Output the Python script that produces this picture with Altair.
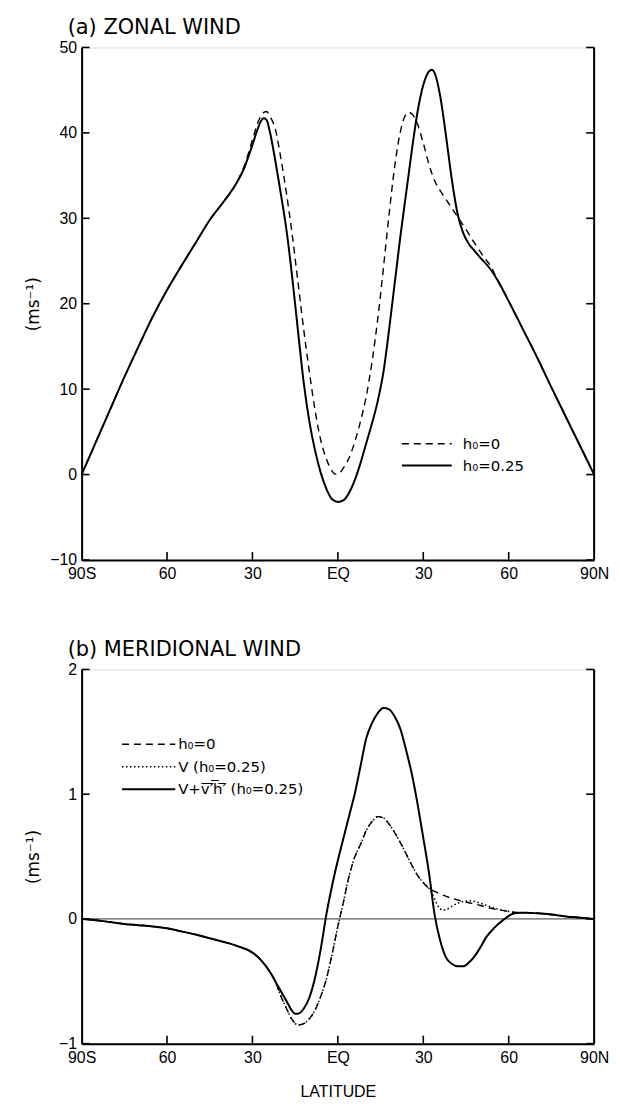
import altair as alt
import pandas as pd

FONT = "Liberation Sans"
TITLE_FONT = "DejaVu Sans"

# axis ticks and labels
LAT_TICKS = [-90, -60, -30, 0, 30, 60, 90]
LAT_LABELS = ["90S", "60", "30", "EQ", "30", "60", "90N"]
U_TICKS = [-10, 0, 10, 20, 30, 40, 50]
V_TICKS = [-1, 0, 1, 2]

# (a) zonal wind, h0 = 0
U0_LAT = [-90, -85, -80, -75, -70, -65, -60, -55, -50, -45, -40, -36, -33, -30, -28, -26, -25,
          -24, -22, -20, -18, -16, -14, -12, -10, -8, -6, -4, -2, -1, 0, 1, 2, 4, 6, 8, 10, 12,
          14, 16, 18, 20, 22, 24, 25, 26, 28, 30, 32, 34, 36, 38, 40, 42, 45, 48, 51, 54, 56,
          60, 65, 70, 75, 80, 85, 90]
U0_VAL = [0.0, 3.8, 7.6, 11.4, 15.0, 18.5, 21.6, 24.4, 27.1, 29.8, 32.0, 33.9, 36.0, 39.2, 41.3,
          42.4, 42.5, 42.0, 40.5, 37.0, 32.8, 28.0, 22.5, 17.0, 12.0, 7.5, 4.0, 1.8, 0.4, 0.05,
          0.05, 0.3, 0.8, 2.0, 3.9, 6.3, 9.2, 13.2, 18.2, 24.2, 30.5, 36.2, 40.2, 42.2, 42.4,
          42.2, 41.0, 38.8, 36.3, 34.4, 33.2, 32.2, 31.2, 30.2, 28.7, 27.1, 25.6, 24.2, 22.8,
          20.3, 17.0, 13.7, 10.2, 6.8, 3.4, 0.0]

# (a) zonal wind, h0 = 0.25
U25_LAT = [-90, -85, -80, -75, -70, -65, -60, -55, -50, -45, -40, -36, -33, -30, -28, -27, -26,
           -25, -24, -22, -20, -18, -16, -14, -12, -10, -8, -6, -4, -2, 0, 2, 4, 6, 8, 10, 12,
           14, 16, 18, 20, 22, 24, 26, 28, 30, 32, 33, 34, 36, 38, 40, 42, 44, 46, 48, 50, 53,
           56, 60, 65, 70, 75, 80, 85, 90]
U25_VAL = [0.0, 3.8, 7.6, 11.4, 15.0, 18.5, 21.6, 24.4, 27.1, 29.8, 32.0, 33.9, 35.8, 38.6, 40.6,
           41.4, 41.7, 41.5, 40.3, 36.8, 32.8, 28.5, 23.0, 16.8, 10.8, 6.2, 2.8, 0.2, -1.7, -2.9,
           -3.2, -3.0, -2.1, -0.6, 1.4, 3.7, 6.0, 8.6, 12.0, 17.0, 22.5, 28.0, 33.0, 38.0, 42.5,
           45.6, 47.2, 47.4, 47.0, 44.2, 39.6, 34.6, 30.6, 28.3, 27.0, 26.2, 25.4, 24.3, 22.8,
           20.3, 17.0, 13.7, 10.2, 6.8, 3.4, 0.0]

# (b) meridional wind, h0 = 0
V0_LAT = [-90, -85, -80, -75, -70, -65, -60, -55, -50, -45, -40, -35, -30, -27, -24, -22, -20,
          -18, -16, -14, -12, -10, -8, -6, -4, -2, 0, 1, 2, 4, 6, 8, 10, 12, 14, 16, 18, 20, 22,
          24, 26, 28, 30, 32, 34, 37, 40, 44, 48, 52, 56, 60, 64, 66, 70, 75, 80, 85, 90]
V0_VAL = [0.0, -0.01, -0.025, -0.04, -0.05, -0.06, -0.075, -0.10, -0.125, -0.155, -0.185, -0.22,
          -0.27, -0.33, -0.42, -0.50, -0.62, -0.72, -0.81, -0.85, -0.84, -0.80, -0.73, -0.62,
          -0.48, -0.28, -0.06, 0.04, 0.14, 0.35, 0.50, 0.60, 0.71, 0.78, 0.82, 0.81, 0.76, 0.69,
          0.61, 0.52, 0.43, 0.35, 0.29, 0.245, 0.22, 0.19, 0.165, 0.14, 0.12, 0.095, 0.075,
          0.06, 0.05, 0.05, 0.045, 0.035, 0.02, 0.01, 0.0]

# (b) meridional wind, V for h0 = 0.25
VD_LAT = [-90, -85, -80, -75, -70, -65, -60, -55, -50, -45, -40, -35, -30, -27, -24, -22, -20,
          -18, -16, -14, -12, -10, -8, -6, -4, -2, 0, 1, 2, 4, 6, 8, 10, 12, 14, 16, 18, 20, 22,
          24, 26, 28, 30, 32, 33, 34, 35, 36, 37, 38, 40, 42, 44, 46, 48, 52, 56, 60, 64, 66, 70,
          75, 80, 85, 90]
VD_VAL = [0.0, -0.01, -0.025, -0.04, -0.05, -0.06, -0.075, -0.10, -0.125, -0.155, -0.185, -0.22,
          -0.27, -0.33, -0.42, -0.50, -0.62, -0.72, -0.81, -0.85, -0.84, -0.80, -0.73, -0.62,
          -0.48, -0.28, -0.06, 0.04, 0.14, 0.35, 0.50, 0.60, 0.71, 0.78, 0.82, 0.81, 0.76, 0.69,
          0.61, 0.52, 0.43, 0.35, 0.29, 0.245, 0.21, 0.16, 0.11, 0.08, 0.07, 0.075, 0.10, 0.125,
          0.14, 0.145, 0.14, 0.11, 0.08, 0.06, 0.05, 0.05, 0.045, 0.035, 0.02, 0.01, 0.0]

# (b) meridional wind, V + v'h' for h0 = 0.25
VT_LAT = [-90, -85, -80, -75, -70, -65, -60, -55, -50, -45, -40, -35, -30, -27, -24, -21, -18,
          -16, -15, -14, -12, -10, -8, -6, -4, -2, 0, 2, 4, 6, 8, 10, 12, 14, 16, 18, 20, 22, 24,
          26, 28, 30, 32, 34, 36, 38, 40, 42, 44, 46, 48, 50, 52, 55, 58, 62, 64, 66, 70, 75, 80,
          85, 90]
VT_VAL = [0.0, -0.01, -0.025, -0.04, -0.05, -0.06, -0.075, -0.10, -0.125, -0.155, -0.185, -0.22,
          -0.27, -0.33, -0.42, -0.54, -0.66, -0.74, -0.76, -0.76, -0.72, -0.63, -0.47, -0.24,
          0.04, 0.27, 0.47, 0.65, 0.83, 1.01, 1.23, 1.45, 1.57, 1.65, 1.69, 1.68, 1.62, 1.52,
          1.35, 1.16, 0.92, 0.65, 0.37, 0.03, -0.18, -0.31, -0.36, -0.38, -0.38, -0.35, -0.30,
          -0.23, -0.15, -0.07, -0.01, 0.045, 0.05, 0.05, 0.045, 0.035, 0.02, 0.01, 0.0]

U_LEGEND = ["h\u2080=0", "h\u2080=0.25"]
V_LEGEND = ["h\u2080=0", "V   (h\u2080=0.25)",
            "V+v\u0305\u2032\u0305h\u0305\u2032\u0305 (h\u2080=0.25)"]

W = 515
HA = 515
HB = 376
TICK = 8

DASH = [7, 5]
DOT = [1.5, 2.5]

lab_expr = " : ".join(f"datum.value == {t} ? '{l}'" for t, l in zip(LAT_TICKS, LAT_LABELS)) + " : ''"


def x_enc(title=None):
    return alt.X(
        "lat:Q",
        scale=alt.Scale(domain=[-90, 90], nice=False, zero=False),
        axis=alt.Axis(values=LAT_TICKS, labelExpr=lab_expr, ticks=False, tickSize=0,
                      grid=False, domainColor="black", domainWidth=2, labelFont=FONT,
                      labelFontSize=16, labelColor="black", labelPadding=6, labelFlush=False,
                      title=title, titleFont=FONT, titleFontSize=16, titleFontWeight="normal",
                      titleColor="black", titlePadding=18),
    )


def y_enc(domain, ticks, h):
    return alt.Y(
        "val:Q",
        scale=alt.Scale(domain=domain, nice=False, zero=False),
        axis=alt.Axis(values=ticks, ticks=False, tickSize=0, grid=False, domainColor="black",
                      domainWidth=2, labelFont=FONT, labelFontSize=16, labelColor="black",
                      labelPadding=5, labelFlush=False, title="(ms\u207b\u00b9)",
                      titleFont=TITLE_FONT, titleFontSize=17, titleFontWeight="normal",
                      titleColor="black", titleAngle=-90, titleX=-48, titleY=h / 2,
                      titleAlign="center", titleBaseline="middle"),
    )


def curve(lat, val, dash=None, width=2.0):
    df = pd.DataFrame({"lat": lat, "val": val})
    kw = dict(color="black", strokeWidth=width, interpolate="monotone")
    if dash is not None:
        kw["strokeDash"] = dash
    return df, kw


def panel(title, curves, yticks, domain, h, legend, xtitle=None):
    X = x_enc(xtitle)
    Y = y_enc(domain, yticks, h)
    layers = []
    for lat, val, dash, width in curves:
        df, kw = curve(lat, val, dash, width)
        layers.append(alt.Chart(df).mark_line(**kw).encode(x=X, y=Y))

    # inward ticks on left, right and bottom edges, plus the right frame line
    yt = pd.DataFrame({"val": yticks})
    layers.append(alt.Chart(yt).mark_rule(color="black", strokeWidth=1.6).encode(
        y=Y, x=alt.value(0), x2=alt.value(TICK)))
    layers.append(alt.Chart(yt).mark_rule(color="black", strokeWidth=1.6).encode(
        y=Y, x=alt.value(W), x2=alt.value(W - TICK)))
    xt = pd.DataFrame({"lat": LAT_TICKS[1:-1]})
    layers.append(alt.Chart(xt).mark_rule(color="black", strokeWidth=1.6).encode(
        x=X, y=alt.value(h), y2=alt.value(h - TICK)))
    layers.append(alt.Chart(pd.DataFrame({"k": [0]})).mark_rule(color="black", strokeWidth=2).encode(
        x=alt.value(W), y=alt.value(0), y2=alt.value(h)))

    # legend rows: sample line plus label
    (lx0, lx1, ltx, rows, labels, styles) = legend
    for yv, lab, (dash, width) in zip(rows, labels, styles):
        seg = pd.DataFrame({"lat": [lx0], "lat2": [lx1], "val": [yv]})
        kw = dict(color="black", strokeWidth=width)
        if dash is not None:
            kw["strokeDash"] = dash
        layers.append(alt.Chart(seg).mark_rule(**kw).encode(x=X, x2="lat2:Q", y=Y))
        txt = pd.DataFrame({"lat": [ltx], "val": [yv], "t": [lab]})
        layers.append(alt.Chart(txt).mark_text(align="left", baseline="middle", font=TITLE_FONT,
                                               fontSize=15, color="black").encode(
            x=X, y=Y, text="t:N"))

    layers.append(alt.Chart(pd.DataFrame({"t": [title]})).mark_text(
        align="left", baseline="alphabetic", font=TITLE_FONT, fontSize=21,
        color="black").encode(x=alt.value(-14), y=alt.value(-14), text="t:N"))

    return alt.layer(*layers).properties(width=W, height=h)


panel_a = panel(
    "(a)  ZONAL WIND",
    [(U0_LAT, U0_VAL, DASH, 1.4), (U25_LAT, U25_VAL, None, 2.0)],
    U_TICKS, [-10, 50], HA,
    (22.5, 40.0, 43.9, [3.6, 1.05], U_LEGEND, [(DASH, 1.4), (None, 2.0)]),
)

zero_line = alt.Chart(pd.DataFrame({"val": [0]})).mark_rule(color="#333333", strokeWidth=1).encode(
    y=y_enc([-1, 2], V_TICKS, HB), x=alt.value(0), x2=alt.value(W))

panel_b = panel(
    "(b)  MERIDIONAL WIND",
    [(V0_LAT, V0_VAL, DASH, 1.4), (VD_LAT, VD_VAL, DOT, 1.5), (VT_LAT, VT_VAL, None, 2.0)],
    V_TICKS, [-1, 2], HB,
    (-75.8, -57.1, -56.1, [1.40, 1.22, 1.04], V_LEGEND,
     [(DASH, 1.4), (DOT, 1.5), (None, 2.0)]),
    xtitle="LATITUDE",
)
panel_b = alt.layer(zero_line, panel_b)

chart = alt.vconcat(panel_a, panel_b, spacing=110, bounds="flush").properties(
    padding={"left": 24, "top": 13, "right": 10, "bottom": 10}
).configure_view(stroke=None).configure(background="white")

chart.save("out.html", embed_options={"renderer": "svg", "actions": False})
